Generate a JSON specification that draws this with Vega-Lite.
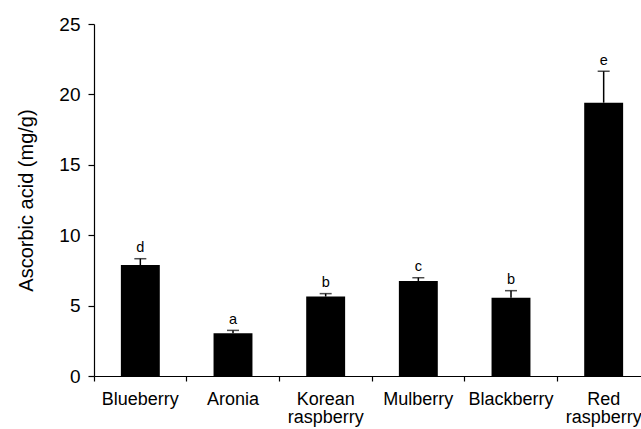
{
  "$schema": "https://vega.github.io/schema/vega-lite/v6.json",
  "autosize": "none",
  "padding": {"left": 94, "top": 24, "right": 0, "bottom": 53},
  "width": 556,
  "height": 352,
  "background": "white",
  "config": {
    "view": {"stroke": null},
    "font": "Liberation Sans",
    "scale": {"continuousPadding": 0},
    "axis": {"grid": false, "domainColor": "black", "tickColor": "black", "labelColor": "black", "titleColor": "black", "labelFont": "Liberation Sans", "titleFont": "Liberation Sans"}
  },
  "data": {
    "values": [
      {"fruit": "Blueberry", "value": 7.88, "upper": 8.33, "group": "d"},
      {"fruit": "Aronia", "value": 3.03, "upper": 3.24, "group": "a"},
      {"fruit": "Korean raspberry", "value": 5.64, "upper": 5.85, "group": "b"},
      {"fruit": "Mulberry", "value": 6.75, "upper": 6.98, "group": "c"},
      {"fruit": "Blackberry", "value": 5.56, "upper": 6.06, "group": "b"},
      {"fruit": "Red raspberry", "value": 19.41, "upper": 21.64, "group": "e"}
    ]
  },
  "encoding": {
    "x": {
      "field": "fruit",
      "type": "nominal",
      "sort": null,
      "scale": {"paddingInner": 0, "paddingOuter": 0},
      "axis": {
        "title": null,
        "labelAngle": 0,
        "labelFontSize": 18,
        "labelPadding": 9,
        "labelLineHeight": 18.5,
        "labelExpr": "split(datum.value, ' ')",
        "bandPosition": 0,
        "tickSize": 5,
        "domainWidth": 1.2,
        "tickWidth": 1.2
      }
    }
  },
  "layer": [
    {
      "mark": {"type": "bar", "color": "black", "width": {"band": 0.42}},
      "encoding": {
        "y": {
          "field": "value",
          "type": "quantitative",
          "scale": {"domain": [0, 25], "padding": 0, "nice": false},
          "axis": {
            "title": "Ascorbic acid (mg/g)",
            "titleFontSize": 20,
            "titleFontWeight": "normal",
            "titlePadding": 22,
            "labelFontSize": 19,
            "labelPadding": 8,
            "tickSize": 6,
            "values": [0, 5, 10, 15, 20, 25],
            "domainWidth": 1.2,
            "tickWidth": 1.2
          }
        }
      }
    },
    {
      "mark": {"type": "rule", "color": "black", "strokeWidth": 1.5},
      "encoding": {
        "y": {"field": "value", "type": "quantitative"},
        "y2": {"field": "upper"}
      }
    },
    {
      "mark": {"type": "tick", "color": "black", "size": 12, "thickness": 1.5, "orient": "horizontal"},
      "encoding": {
        "y": {"field": "upper", "type": "quantitative"}
      }
    },
    {
      "mark": {"type": "text", "color": "black", "fontSize": 14.5, "baseline": "alphabetic", "dy": -6.5},
      "encoding": {
        "y": {"field": "upper", "type": "quantitative"},
        "text": {"field": "group"}
      }
    }
  ]
}
